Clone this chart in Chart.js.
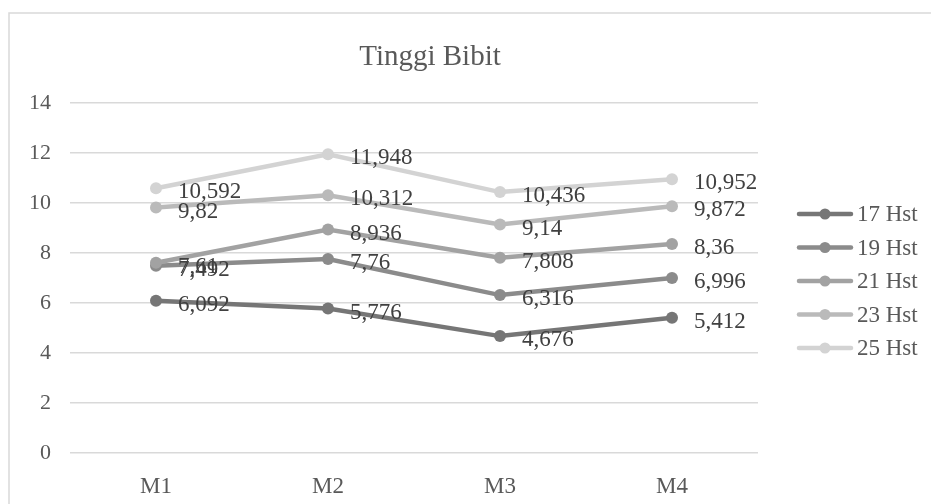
<!DOCTYPE html>
<html>
<head>
<meta charset="utf-8">
<title>Tinggi Bibit</title>
<script src="https://cdn.jsdelivr.net/npm/chart.js@4/dist/chart.umd.min.js"></script>
<style>
  html, body { margin: 0; padding: 0; background: #ffffff; }
  #wrap { width: 931px; height: 504px; position: relative; }
</style>
</head>
<body>
<div id="wrap"><canvas id="chart" width="931" height="504"></canvas></div>
<script>
// Plant height per treatment, measured on successive days after planting
const categories = ['M1', 'M2', 'M3', 'M4'];
const seriesNames = ['17 Hst', '19 Hst', '21 Hst', '23 Hst', '25 Hst'];
const hst17 = [6.092, 5.776, 4.676, 5.412];
const hst19 = [7.492, 7.76, 6.316, 6.996];
const hst21 = [7.61, 8.936, 7.808, 8.36];
const hst23 = [9.82, 10.312, 9.14, 9.872];
const hst25 = [10.592, 11.948, 10.436, 10.952];
const yTicks = [0, 2, 4, 6, 8, 10, 12, 14];
const chartTitle = 'Tinggi Bibit';

const seriesValues = [hst17, hst19, hst21, hst23, hst25];
const seriesColors = ['#767676', '#8b8b8b', '#a2a2a2', '#bababa', '#d3d3d3'];
const SERIF = '"Liberation Serif", "Times New Roman", serif';

const datasets = seriesNames.map((name, i) => ({
  label: name,
  data: seriesValues[i],
  borderColor: seriesColors[i],
  backgroundColor: seriesColors[i],
  pointBackgroundColor: seriesColors[i],
  pointBorderColor: seriesColors[i],
  borderWidth: 4.5,
  pointRadius: 6,
  pointBorderWidth: 0,
  tension: 0,
  order: seriesNames.length - 1 - i
}));

// Frame around the chart and the title
const framePlugin = {
  id: 'frame',
  beforeDraw(chart) {
    const ctx = chart.ctx;
    ctx.save();
    ctx.fillStyle = '#ffffff';
    ctx.fillRect(0, 0, chart.width, chart.height);
    ctx.strokeStyle = '#d9d9d9';
    ctx.lineWidth = 1.5;
    ctx.strokeRect(9, 13, chart.width + 20, chart.height + 20);
    ctx.fillStyle = '#595959';
    ctx.font = '29px ' + SERIF;
    ctx.textAlign = 'center';
    ctx.textBaseline = 'middle';
    ctx.fillText(chartTitle, 430, 57);
    ctx.restore();
  }
};

// Value labels to the right of each point, decimal comma
const valueLabels = {
  id: 'valueLabels',
  afterDatasetsDraw(chart) {
    const ctx = chart.ctx;
    ctx.save();
    ctx.fillStyle = '#404040';
    ctx.font = '23px ' + SERIF;
    ctx.textAlign = 'left';
    ctx.textBaseline = 'middle';
    chart.data.datasets.forEach((ds, di) => {
      const meta = chart.getDatasetMeta(di);
      meta.data.forEach((pt, j) => {
        const txt = String(ds.data[j]).replace('.', ',');
        ctx.fillText(txt, pt.x + 22, pt.y + 4);
      });
    });
    ctx.restore();
  }
};

// Legend on the right: line sample with a marker, then the name
const sideLegend = {
  id: 'sideLegend',
  afterDraw(chart) {
    const ctx = chart.ctx;
    const x0 = 799, x1 = 851, top = 214, step = 33.5;
    ctx.save();
    chart.data.datasets.forEach((ds, i) => {
      const y = top + i * step;
      ctx.strokeStyle = ds.borderColor;
      ctx.lineWidth = 4.5;
      ctx.lineCap = 'round';
      ctx.beginPath();
      ctx.moveTo(x0, y);
      ctx.lineTo(x1, y);
      ctx.stroke();
      ctx.fillStyle = ds.borderColor;
      ctx.beginPath();
      ctx.arc((x0 + x1) / 2, y, 5.5, 0, Math.PI * 2);
      ctx.fill();
      ctx.fillStyle = '#595959';
      ctx.font = '23px ' + SERIF;
      ctx.textAlign = 'left';
      ctx.textBaseline = 'middle';
      ctx.fillText(ds.label, 857, y + 1);
    });
    ctx.restore();
  }
};

new Chart(document.getElementById('chart'), {
  type: 'line',
  data: { labels: categories, datasets },
  plugins: [framePlugin, valueLabels, sideLegend],
  options: {
    responsive: false,
    animation: false,
    devicePixelRatio: 1,
    layout: { padding: { top: 103, left: 0, right: 173, bottom: 0 } },
    plugins: {
      legend: { display: false },
      title: { display: false },
      tooltip: { enabled: false }
    },
    scales: {
      x: {
        offset: true,
        grid: { display: false, drawTicks: false },
        border: { display: false },
        ticks: {
          color: '#595959',
          font: { family: SERIF, size: 23 },
          padding: 20
        },
        afterFit(scale) { scale.height = 51; }
      },
      y: {
        min: 0,
        max: 14,
        afterBuildTicks(scale) { scale.ticks = yTicks.map(v => ({ value: v })); },
        grid: { color: '#d9d9d9', lineWidth: 1.5, drawTicks: false },
        border: { display: false },
        ticks: {
          color: '#595959',
          font: { family: SERIF, size: 22 },
          padding: 19
        },
        afterFit(scale) { scale.width = 70; }
      }
    }
  }
});
</script>
</body>
</html>
